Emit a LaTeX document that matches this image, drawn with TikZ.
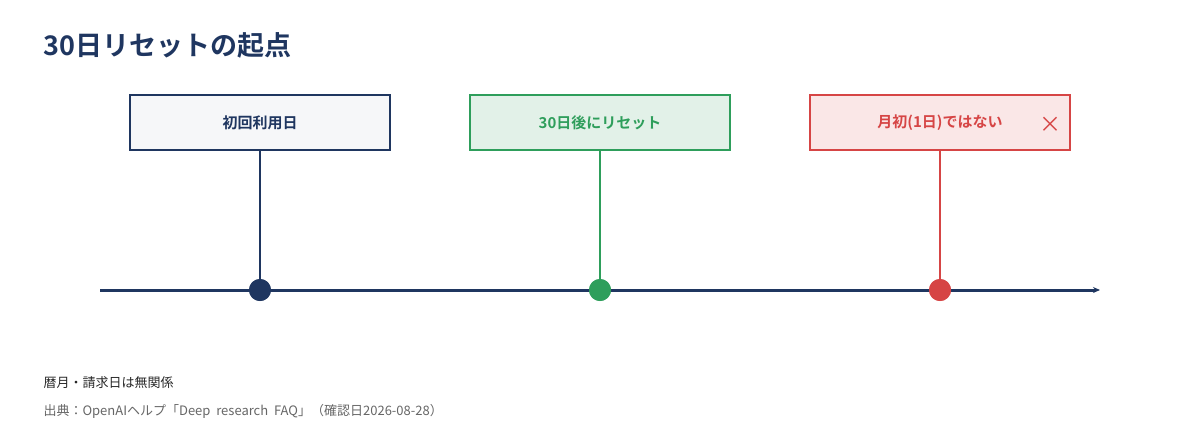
\documentclass[tikz,border=0pt]{standalone}
\usepackage{fontspec}
\setmainfont{Noto Sans CJK JP}
\newfontfamily\jpb{Noto Sans CJK JP Bold}
\usetikzlibrary{arrows.meta}
\definecolor{navy}{HTML}{1F3660}
\definecolor{grn}{HTML}{2E9E5B}
\definecolor{red1}{HTML}{D64545}
\definecolor{gr}{HTML}{666666}
\begin{document}
\begin{tikzpicture}[x=1pt,y=-1pt,
 box/.style={draw=#1,line width=1.5pt,minimum width=260pt,minimum height=55pt,inner sep=0pt,font=\jpb\fontsize{15}{18}\selectfont,text=#1},
 dot/.style={circle,fill=#1,minimum size=22pt,inner sep=0pt},
 stem/.style={draw=#1,line width=2.5pt}]
\useasboundingbox (0,0) rectangle (1200,440);
\node[anchor=west,text=navy,font=\jpb\fontsize{27}{32}\selectfont] (title) at (40,45) {30日リセットの起点};
\node[box=navy,fill=navy!4] (b1) at (260,122.5) {初回利用日};
\node[box=grn,fill=grn!14] (b2) at (600,122.5) {30日後にリセット};
\node[box=red1,fill=red1!13] (b3) at (940,122.5) {月初(1日)ではない};
\node[text=red1,font=\fontsize{22}{22}\selectfont] (x) at (1050,125) {×};
\coordinate (s) at (100,290); \coordinate (e) at (1100,290);
\draw[navy,line width=3pt,-{Stealth[length=7pt,width=6pt]}] (s) -- (e);
\node[dot=navy] (d1) at (260,290) {};
\node[dot=grn] (d2) at (600,290) {};
\node[dot=red1] (d3) at (940,290) {};
\draw[stem=navy] (b1.south) -- (d1.center);
\draw[stem=grn] (b2.south) -- (d2.center);
\draw[stem=red1] (b3.south) -- (d3.center);
\node[dot=navy] at (260,290) {};
\node[dot=grn] at (600,290) {};
\node[dot=red1] at (940,290) {};
\node[anchor=west,font=\fontsize{13}{15}\selectfont,text=black!85] (n1) at (40,383) {暦月・請求日は無関係};
\node[anchor=west,font=\fontsize{13}{15}\selectfont,text=gr] (n2) at (40,411) {出典：OpenAIヘルプ「Deep\ \ research\ \ FAQ」（確認日2026-08-28）};
\end{tikzpicture}
\end{document}
